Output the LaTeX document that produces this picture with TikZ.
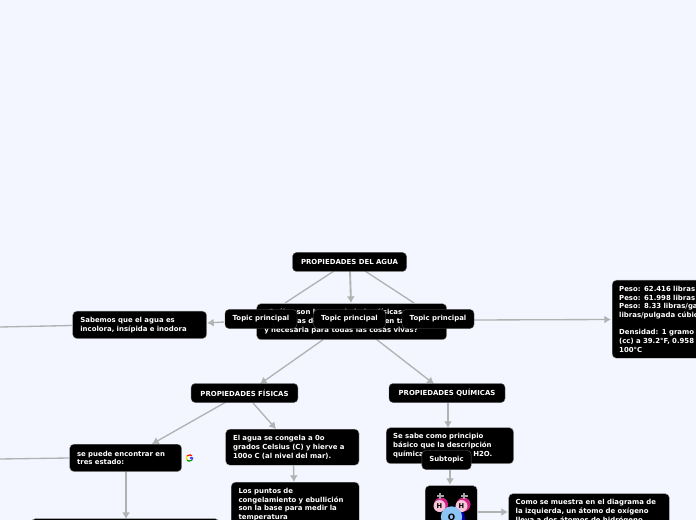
\documentclass[tikz,border=0pt]{standalone}
\usepackage{fontspec}
\setmainfont{DejaVu Sans}
\usetikzlibrary{arrows.meta}
\definecolor{pagebg}{HTML}{F3F6FF}
\definecolor{linkgray}{HTML}{B2B2B2}
\definecolor{topicedge}{HTML}{5A5A5A}
\definecolor{hydrogen}{HTML}{F8C4D8}
\definecolor{oxyblue}{HTML}{8CC4F4}
\tikzset{
    topic/.style={fill=black, draw=gray!60, line width=0.3pt, rounded corners=3pt, text=white, align=left, anchor=north west, inner sep=0pt, font=\fontsize{5.2pt}{6.5pt}\selectfont\bfseries},
    pill/.style={topic, anchor=center, draw=topicedge, align=center},
    link/.style={draw=linkgray, line width=1pt},
    arrow/.style={link, -{Latex[length=5pt,width=6pt]}},
    hatom/.style={circle, fill=hydrogen, minimum size=9pt, inner sep=0pt, text=black, font=\fontsize{5pt}{5pt}\selectfont\bfseries},
    oatom/.style={circle, fill=oxyblue, minimum size=16pt, inner sep=0pt, text=black, font=\fontsize{6.5pt}{6.5pt}\selectfont\bfseries},
}
\begin{document}
\begin{tikzpicture}[x=0.75pt, y=-0.75pt]
\useasboundingbox (0,0) rectangle (696,520);
\clip (0,0) rectangle (696,520);
\fill[pagebg] (0,0) rectangle (696,520);
% Anchors for the links
\coordinate (leftA) at (0,327);
\coordinate (leftB) at (0,459);
% Links under the boxes
\draw[link] (334,271) -- (285,303);
\draw[arrow, line width=1.4pt] (350,271) -- (351,303);
\draw[link] (365,271) -- (414,303);
\draw[arrow] (224,322) -- (207,323);
\draw[arrow] (474,320) -- (611,319.5);
\draw[link] (72,325.5) -- (leftA);
\draw[arrow] (324,339) -- (260,384);
\draw[arrow] (376,339) -- (434,384);
\draw[arrow] (226,402) -- (152,444);
\draw[arrow] (253,403) -- (276,429);
\draw[arrow, line width=1.4pt] (448,403) -- (448,428);
\draw[link] (69,458) -- (leftB);
\draw[arrow] (126,471) -- (126,519);
\draw[arrow] (293.5,465) -- (294,482);
\draw[arrow] (450,470) -- (450,485);
\draw[arrow] (478,512) -- (508,512);
% Boxes
\node[topic, minimum width=142.5pt, minimum height=27pt] (question) at (256.5,303.5) {};
\node[anchor=north west, inner sep=0pt, text=white, font=\fontsize{5.2pt}{6.5pt}\selectfont\bfseries, align=left] (questiontxt) at (264,309) {¿Cuáles son las propiedades físicas\\y químicas del agua que la hacen tan vital\\y necesaria para todas las cosas vivas?};
\node[pill, minimum width=85.5pt, minimum height=14.25pt] (root) at (349.5,262) {PROPIEDADES DEL AGUA};
\node[pill, minimum width=54pt, minimum height=14.25pt] (topicleft) at (261,319) {Topic principal};
\node[pill, minimum width=54pt, minimum height=14.25pt] (topicmid) at (349.5,319) {Topic principal};
\node[pill, minimum width=54pt, minimum height=14.25pt] (topicright) at (438,319) {Topic principal};
\node[topic, minimum width=100.5pt, minimum height=20.5pt, text width=89pt, inner xsep=5.6pt] (sabemos) at (72.5,311) {Sabemos que el agua es\\incolora, insípida e inodora};
\node[pill, minimum width=80pt, minimum height=14.25pt] (fisicas) at (244.5,393) {PROPIEDADES FÍSICAS};
\node[pill, minimum width=87pt, minimum height=14.25pt] (quimicas) at (447,393) {PROPIEDADES QUÍMICAS};
\node[topic, minimum width=84pt, minimum height=20.5pt, text width=73pt, inner xsep=5.5pt] (estado) at (69.5,444) {se puede encontrar en\\tres estado:};
\node[topic, minimum width=100pt, minimum height=27pt, text width=89pt, inner xsep=5.5pt] (congela) at (225.5,429) {El agua se congela a 0o\\grados Celsius (C) y hierve a\\100o C (al nivel del mar).};
\node[topic, minimum width=96pt, text width=85pt, inner xsep=5.5pt, inner ysep=4.5pt] (puntos) at (231,482) {Los puntos de\\congelamiento y ebullición\\son la base para medir la\\temperatura\\[6.5pt]};
\node[topic, minimum width=95.5pt, minimum height=27pt, text width=85pt, inner xsep=5.25pt] (sabe) at (386,427.5) {Se sabe como principio\\básico que la descripción\\química del agua es H2O.};
\node[pill, minimum width=37pt, minimum height=14.25pt] (subtopic) at (446.5,460) {Subtopic};
\node[topic, minimum width=39pt, minimum height=50pt] (molecule) at (425,485.5) {};
\node[topic, minimum width=120pt, text width=110pt, inner xsep=5.25pt, inner ysep=4.5pt] (como) at (508.5,493.5) {Como se muestra en el diagrama de\\la izquierda, un átomo de oxígeno\\lleva a dos átomos de hidrógeno};
\node[topic, minimum width=150pt, minimum height=58.5pt, text width=140pt, inner xsep=5.25pt, inner ysep=4pt] (peso) at (612,280) {Peso: 62.416 libras por pie cúbico\\Peso: 61.998 libras por pie cúbico\\Peso: 8.33 libras/galón, 0.036\\libras/pulgada cúbica\\[6.5pt]Densidad: 1 gramo por centímetro\\(cc) a 39.2°F, 0.958 gramo/cc a\\100°C};
\node[topic, minimum width=141pt, minimum height=10pt] (estados) at (31,518.5) {};
% Water molecule
\fill[magenta!85!black] (441,504.5) circle (7);
\fill[magenta!85!black] (463.5,504.5) circle (7);
\fill[blue!70!black] (453.5,518) circle (11.5);
\node[hatom] (hleft) at (439.5,506) {H};
\node[hatom] (hright) at (461.5,506) {H};
\node[oatom] (oxygen) at (451.5,517) {O};
\draw[gray!70, line width=0.8pt] (437,496) -- (443.5,496) (440,493) -- (440,499);
\draw[gray!70, line width=0.8pt] (461,496) -- (467.5,496) (464,493) -- (464,499);
% Google mark
\coordinate (gmark) at (189.5,458);
\draw[line width=0.9pt, red!85!orange] (gmark) ++(220:3.2) arc (220:320:3.2);
\draw[line width=0.9pt, yellow!85!orange] (gmark) ++(140:3.2) arc (140:220:3.2);
\draw[line width=0.9pt, green!60!black] (gmark) ++(40:3.2) arc (40:140:3.2);
\draw[line width=0.9pt, blue!70] (gmark) ++(0:3.2) arc (0:40:3.2);
\draw[line width=0.9pt, blue!70] (gmark) -- ++(3.2,0);
\end{tikzpicture}
\end{document}
